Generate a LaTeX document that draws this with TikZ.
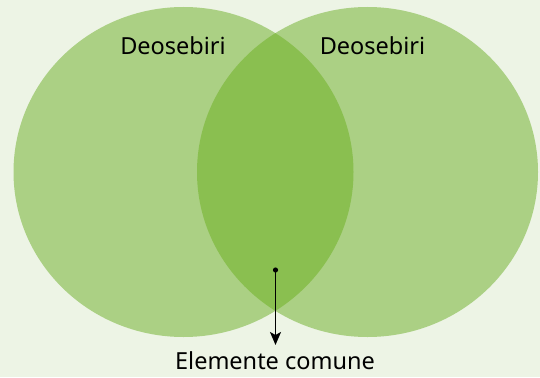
\documentclass[tikz,border=0pt]{standalone}
\usepackage{fontspec}
\setmainfont{Noto Sans}
\usetikzlibrary{arrows.meta}
\definecolor{bg}{RGB}{237,244,229}
\definecolor{setc}{RGB}{171,208,132}
\definecolor{lensc}{RGB}{138,191,80}
\tikzset{
  lbl/.style={font=\fontsize{23.5}{28}\selectfont, text=black, inner sep=0pt},
  conn/.style={-{Stealth[length=13pt,width=11pt,inset=3pt]}, line width=1.5pt, black}
}
\begin{document}
\begin{tikzpicture}[x=1pt,y=-1pt]
\fill[bg] (0,0) rectangle (540,377);
\useasboundingbox (0,0) rectangle (540,377);
\fill[setc] (183.5,172) ellipse [x radius=170, y radius=165];
\fill[setc] (367.5,172) ellipse [x radius=170.5, y radius=165];
\begin{scope}
  \clip (183.5,172) ellipse [x radius=170, y radius=165];
  \fill[lensc] (367.5,172) ellipse [x radius=170.5, y radius=165];
\end{scope}
\node[lbl] (dl) at (173,46) {Deosebiri};
\node[lbl] (dr) at (372.5,46) {Deosebiri};
\node[lbl, anchor=base] (common) at (275,369.5) {Elemente comune};
\coordinate (dot) at (275.5,270);
\coordinate (tip) at (275.5,345);
\fill[black] (dot) circle (2.6);
\draw[conn] (dot) -- (tip);
\end{tikzpicture}
\end{document}
